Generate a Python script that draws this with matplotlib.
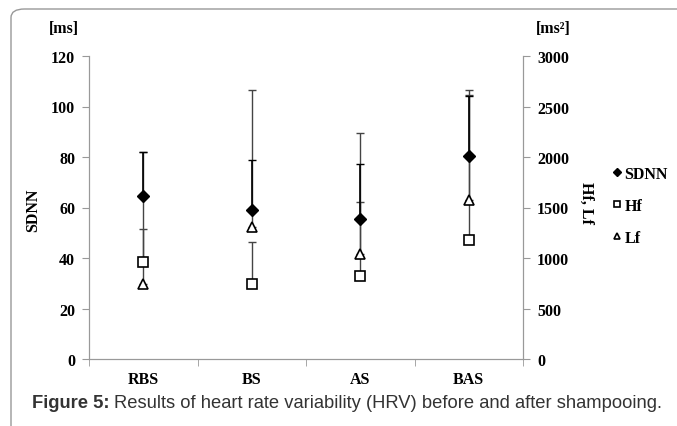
import matplotlib.pyplot as plt
from matplotlib.patches import FancyBboxPatch

categories = ['RBS', 'BS', 'AS', 'BAS']
sdnn = [64.5, 59.0, 55.4, 80.5]
sdnn_err = [17.5, 19.8, 21.7, 23.8]
hf = [960, 743, 825, 1180]
hf_err = [325, 414, 730, 1430]
lf = [743, 1307, 1040, 1575]
lf_err = [1307, 1355, 1200, 1093]

serif = 'Liberation Serif'
plt.rcParams['font.family'] = serif
plt.rcParams['font.weight'] = 'bold'
fs = 11.5

fig = plt.figure(figsize=(6.77, 4.27), dpi=100)

# rounded frame around the figure
frame = FancyBboxPatch((11 / 677, -0.1), 1.2, 1 - 10 / 427 + 0.1,
                       boxstyle='round,pad=0,rounding_size=0.02',
                       transform=fig.transFigure, fill=False,
                       edgecolor='#999999', linewidth=1.0)
fig.patches.append(frame)

ax = fig.add_axes([89 / 677, 1 - 360 / 427, (523 - 89) / 677, (360 - 57) / 427])
ax2 = ax.twinx()
ax.set_zorder(ax2.get_zorder() + 1)
ax.patch.set_visible(False)

x = list(range(len(categories)))
grey = '#444444'

# Hf / Lf on the right axis (plus direction error bars)
ax2.errorbar(x, lf, yerr=[[0] * 4, lf_err], fmt='none', ecolor=grey,
             elinewidth=1, capsize=3, capthick=1)
ax2.errorbar(x, hf, yerr=[[0] * 4, hf_err], fmt='none', ecolor=grey,
             elinewidth=1, capsize=3, capthick=1)
h_hf, = ax2.plot(x, hf, linestyle='none', marker='s', markersize=7,
                 markerfacecolor='white', markeredgecolor='black', markeredgewidth=1.2, zorder=5)
h_lf, = ax2.plot(x, lf, linestyle='none', marker='^', markersize=7,
                 markerfacecolor='white', markeredgecolor='black', markeredgewidth=1.2, zorder=5)

# SDNN on the left axis
ax.errorbar(x, sdnn, yerr=[[0] * 4, sdnn_err], fmt='none', ecolor='black',
            elinewidth=1.2, capsize=3, capthick=1)
h_sd, = ax.plot(x, sdnn, linestyle='none', marker='D', markersize=6,
                color='black', zorder=5)

ax.set_xlim(-0.5, 3.5)
ax.set_ylim(0, 120)
ax2.set_ylim(0, 3000)
ax.set_yticks(range(0, 121, 20))
ax2.set_yticks(range(0, 3001, 500))
ax.set_xticks(x)
ax.set_xticklabels(categories)
ax.set_xticks([-0.5, 0.5, 1.5, 2.5, 3.5], minor=True)

for a in (ax, ax2):
    for s in a.spines.values():
        s.set_color('#999999')
    a.spines['top'].set_visible(False)
ax.tick_params(axis='x', which='major', length=0, pad=9, labelsize=fs)
ax.tick_params(axis='x', which='minor', length=5, color='#999999')
ax.tick_params(axis='y', length=5, color='#999999', labelsize=fs, pad=5)
ax2.tick_params(axis='y', length=5, color='#999999', labelsize=fs, pad=5)

fig.text(64 / 677, 1 - 29 / 427, '[ms]', ha='center', va='center', fontsize=fs)
fig.text(553 / 677, 1 - 29 / 427, '[ms²]', ha='center', va='center', fontsize=fs)
fig.text(33 / 677, 1 - 210 / 427, 'SDNN', ha='center', va='center', rotation=90, fontsize=fs)
fig.text(586 / 677, 1 - 203 / 427, 'Hf, Lf', ha='center', va='center', rotation=270, fontsize=fs)

fig.legend([h_sd, h_hf, h_lf], ['SDNN', 'Hf', 'Lf'], loc='center left',
           bbox_to_anchor=(598 / 677, 1 - 207 / 427), frameon=False,
           markerscale=0.7, handlelength=0.6, handletextpad=0.15,
           labelspacing=1.0, prop={'family': serif, 'weight': 'bold', 'size': fs})

fig.text(32 / 677, 1 - 404 / 427, 'Figure 5:', ha='left', va='center',
         fontsize=13.2, family='Liberation Sans', weight='bold', color='#333333')
fig.text(114 / 677, 1 - 404 / 427,
         'Results of heart rate variability (HRV) before and after shampooing.',
         ha='left', va='center', fontsize=13.2, family='Liberation Sans',
         weight='normal', color='#333333')

fig.savefig('out.png', dpi=100)
